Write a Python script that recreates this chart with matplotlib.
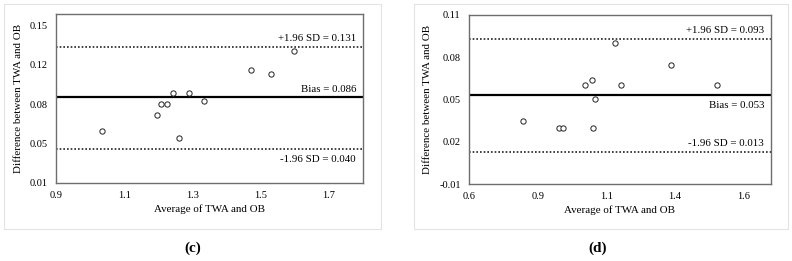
import numpy as np
from matplotlib import pyplot as plt
from matplotlib.patches import Rectangle

# panel (c)
c_avg = [1.036, 1.195, 1.208, 1.224, 1.242, 1.262, 1.289, 1.333, 1.471, 1.529, 1.599]
c_diff = [0.056, 0.070, 0.080, 0.080, 0.090, 0.050, 0.090, 0.083, 0.110, 0.107, 0.127]
c_bias, c_upper, c_lower = 0.086, 0.131, 0.040
c_xticks = [0.9, 1.1, 1.3, 1.5, 1.7]
c_yticks = [0.01, 0.045, 0.08, 0.115, 0.15]
c_ylabels = ['0.01', '0.05', '0.08', '0.12', '0.15']

# panel (d)
d_avg = [0.795, 0.926, 0.944, 1.021, 1.048, 1.052, 1.060, 1.131, 1.152, 1.335, 1.503]
d_diff = [0.035, 0.030, 0.030, 0.060, 0.064, 0.030, 0.050, 0.090, 0.060, 0.0745, 0.060]
d_bias, d_upper, d_lower = 0.053, 0.093, 0.013
d_xticks = [0.6, 0.85, 1.1, 1.35, 1.6]
d_xlabels = ['0.6', '0.9', '1.1', '1.4', '1.6']
d_yticks = [-0.01, 0.02, 0.05, 0.08, 0.11]
d_ylabels = ['-0.01', '0.02', '0.05', '0.08', '0.11']

plt.rcParams['font.family'] = ['Liberation Serif', 'DejaVu Serif']

fig = plt.figure(figsize=(7.92, 2.61), dpi=100)
W, H = 792, 261

def ax_at(l, t, r, b):
    return fig.add_axes([l / W, 1 - b / H, (r - l) / W, (b - t) / H])

# light panel frames
for (l, t, r, b) in [(4, 4, 381, 229), (414, 4, 788, 229)]:
    fig.patches.append(Rectangle((l / W, 1 - b / H), (r - l) / W, (b - t) / H,
                                 transform=fig.transFigure, fill=False,
                                 edgecolor='#e3e3e3', lw=0.8))


def label(ax, y, s, above):
    # text sits just above or just below its line, right aligned
    ax.annotate(s, xy=(1, y), xycoords=('axes fraction', 'data'),
                xytext=(-5, 2.5 if above else -4), textcoords='offset points',
                ha='right', va='bottom' if above else 'top', fontsize=7.8)


def panel(ax, x, y, bias, up, lo, xlim, ylim, xticks, xlabels, yticks, ylabels, pos):
    ax.plot(x, y, 'o', ms=3.8, mfc='white', mec='#222222', mew=0.7, zorder=3)
    ax.axhline(bias, color='black', lw=1.6)
    ax.axhline(up, color='#222222', lw=1.2, ls=(0, (1, 1.2)))
    ax.axhline(lo, color='#222222', lw=1.2, ls=(0, (1, 1.2)))
    ax.set_xlim(*xlim)
    ax.set_ylim(*ylim)
    ax.set_xticks(xticks)
    ax.set_xticklabels(xlabels)
    ax.set_yticks(yticks)
    ax.set_yticklabels(ylabels)
    ax.tick_params(axis='y', length=0, labelsize=7.5, pad=6)
    ax.tick_params(axis='x', length=0, labelsize=7.5, pad=6)
    for s in ax.spines.values():
        s.set_color('#6e6e6e')
        s.set_linewidth(1.0)
    ax.set_xlabel('Average of TWA and OB', fontsize=7.9, labelpad=3)
    ax.set_ylabel('Difference between TWA and OB', fontsize=7.9, labelpad=5)
    label(ax, up, '+1.96 SD = %.3f' % up, pos[0] > 0)
    label(ax, bias, 'Bias = %.3f' % bias, pos[1] > 0)
    label(ax, lo, '-1.96 SD = %.3f' % lo, pos[2] > 0)


ax1 = ax_at(56, 14, 363, 183)
panel(ax1, c_avg, c_diff, c_bias, c_upper, c_lower, (0.9, 1.8), (0.01, 0.16),
      c_xticks, [str(v) for v in c_xticks], c_yticks, c_ylabels, (1, 1, -1))

ax2 = ax_at(469, 15, 771, 184)
panel(ax2, d_avg, d_diff, d_bias, d_upper, d_lower, (0.6, 1.7), (-0.01, 0.11),
      d_xticks, d_xlabels, d_yticks, d_ylabels, (1, -1, 1))

fig.text(193 / W, 1 - 248 / H, '(c)', ha='center', va='center', fontsize=11, fontweight='bold')
fig.text(598 / W, 1 - 248 / H, '(d)', ha='center', va='center', fontsize=11, fontweight='bold')

fig.savefig('out.png', dpi=100)
